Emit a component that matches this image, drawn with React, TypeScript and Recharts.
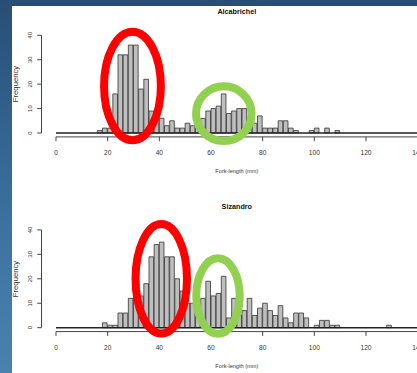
import React from 'react';
import { BarChart, Bar, XAxis, YAxis, ReferenceLine, ReferenceArea } from 'recharts';

// ---------- data ----------
const BIN_STARTS = [
  0, 2, 4, 6, 8, 10, 12, 14, 16, 18, 20, 22, 24, 26, 28, 30, 32, 34, 36, 38,
  40, 42, 44, 46, 48, 50, 52, 54, 56, 58, 60, 62, 64, 66, 68, 70, 72, 74, 76, 78,
  80, 82, 84, 86, 88, 90, 92, 94, 96, 98, 100, 102, 104, 106, 108, 110, 112, 114, 116, 118,
  120, 122, 124, 126, 128, 130, 132, 134, 136, 138,
];

const ALCABRICHEL_COUNTS = [
  0, 0, 0, 0, 0, 0, 0, 0,
  1, 2, 2, 16, 32, 32, 36, 36, 18, 22,
  9, 6, 6, 3, 5, 2, 2, 4, 3, 2,
  6, 9, 10, 11, 16, 8, 9, 10, 10, 3,
  4, 7, 2, 2, 2, 5, 5, 2, 1, 0,
  0, 1, 2, 0, 2, 0, 1,
  0, 0, 0, 0, 0, 0, 0, 0, 0, 0, 0, 0, 0, 0, 0,
];

const SIZANDRO_COUNTS = [
  0, 0, 0, 0, 0, 0, 0, 0, 0,
  2, 1, 1, 6, 6, 12, 12, 13, 18, 29,
  34, 35, 29, 29, 20, 15, 10, 10, 10, 12,
  19, 13, 14, 21, 4, 12, 5, 7, 12, 5,
  8, 10, 7, 5, 9, 4, 2, 6, 6, 4,
  0, 1, 3, 3, 1, 1,
  0, 0, 0, 0, 0, 0, 0, 0, 0,
  1,
  0, 0, 0, 0, 0,
];

const X_TICKS = [0, 20, 40, 60, 80, 100, 120, 140];
const Y_TICKS = [0, 10, 20, 30, 40];
const TITLES = ['Alcabrichel', 'Sizandro'];
const X_LABEL = 'Fork-length (mm)';
const Y_LABEL = 'Frequency';

// annotation ellipses (in data units: mm / frequency)
const ALC_RED = { x1: 18.6, x2: 40.6, y1: -3.0, y2: 41.5 };
const ALC_GREEN = { x1: 54.2, x2: 75.7, y1: -3.3, y2: 19.1 };
const SIZ_RED = { x1: 30.8, x2: 50.7, y1: -2.4, y2: 42.4 };
const SIZ_GREEN = { x1: 54.3, x2: 71.1, y1: -2.45, y2: 28.4 };

// ---------- layout ----------
const FONT = '"Liberation Sans", Arial, Helvetica, sans-serif';
const K = 2.5833; // px per mm
const X_MIN = -5.6;
const X_MAX = 145.6;
const BREAK_MAX = 140;
const Y_MIN = -1.6;
const Y_MAX = 41.6;
const PLOT_LEFT = 41.53;
const Y_AXIS_W = 30;
const PLOT_W = (X_MAX - X_MIN) * K;
const CHART_W = 440;
const BAND = 2 * K;
const RED = '#ff0000';
const GREEN = '#92d050';

const XTick = (props: any) => {
  const { x, y, payload } = props;
  return (
    <text x={x} y={y} textAnchor="middle" dominantBaseline="central" fontSize={6.6} fill="#333" fontFamily={FONT}>
      {payload.value}
    </text>
  );
};

const YTick = (props: any) => {
  const { x, y, payload } = props;
  return (
    <text
      x={x}
      y={y}
      transform={`rotate(-90 ${x} ${y})`}
      textAnchor="middle"
      dominantBaseline="central"
      fontSize={6}
      fill="#333"
      fontFamily={FONT}
    >
      {payload.value}
    </text>
  );
};

const ellipseShape = (color: string) => (p: any) => (
  <ellipse
    cx={p.x + p.width / 2}
    cy={p.y + p.height / 2}
    rx={p.width / 2}
    ry={p.height / 2}
    fill="none"
    stroke={color}
    strokeWidth={8}
  />
);

type Mark = { x1: number; x2: number; y1: number; y2: number };

function Histogram(props: {
  counts: number[];
  height: number;
  marginTop: number;
  marginBottom: number;
  red: Mark;
  green: Mark;
}) {
  const data = BIN_STARTS.map((b, i) => ({ bin: b, count: props.counts[i] }));
  const marks: [Mark, string][] = [
    [props.red, RED],
    [props.green, GREEN],
  ];
  return (
    <BarChart
      width={CHART_W}
      height={props.height}
      data={data}
      margin={{
        top: props.marginTop,
        bottom: props.marginBottom,
        left: PLOT_LEFT - Y_AXIS_W,
        right: CHART_W - PLOT_LEFT - PLOT_W,
      }}
      barCategoryGap={0}
      barGap={0}
      style={{ overflow: 'visible' }}
    >
      <XAxis
        xAxisId="cat"
        dataKey="bin"
        type="category"
        hide
        height={0}
        padding={{ left: (0 - X_MIN) * K, right: (X_MAX - BREAK_MAX) * K }}
      />
      <XAxis
        xAxisId="num"
        dataKey="bin"
        type="number"
        domain={[X_MIN, X_MAX]}
        allowDataOverflow
        ticks={X_TICKS}
        interval={0}
        axisLine={false}
        tickSize={4.3}
        tickMargin={11.2}
        tickLine={{ stroke: '#444', strokeWidth: 1 }}
        tick={XTick}
        height={30}
      />
      <YAxis
        type="number"
        domain={[Y_MIN, Y_MAX]}
        allowDataOverflow
        ticks={Y_TICKS}
        interval={0}
        axisLine={false}
        width={Y_AXIS_W}
        tickSize={4.3}
        tickMargin={7}
        tickLine={{ stroke: '#444', strokeWidth: 1 }}
        tick={YTick}
      />
      <Bar
        xAxisId="cat"
        dataKey="count"
        fill="#bebebe"
        stroke="#333"
        strokeWidth={0.8}
        barSize={BAND}
        isAnimationActive={false}
      />
      <ReferenceLine
        xAxisId="num"
        segment={[{ x: 0, y: 0 }, { x: BREAK_MAX, y: 0 }]}
        stroke="#222"
        strokeWidth={1.6}
        ifOverflow="visible"
      />
      <ReferenceLine
        xAxisId="num"
        segment={[{ x: 0, y: Y_MIN }, { x: BREAK_MAX, y: Y_MIN }]}
        stroke="#444"
        strokeWidth={1}
        ifOverflow="visible"
      />
      <ReferenceLine
        xAxisId="num"
        segment={[{ x: X_MIN, y: 0 }, { x: X_MIN, y: 40 }]}
        stroke="#444"
        strokeWidth={1}
        ifOverflow="visible"
      />
      {marks.map(([m, c], i) => (
        <ReferenceArea
          key={i}
          xAxisId="num"
          x1={m.x1}
          x2={m.x2}
          y1={m.y1}
          y2={m.y2}
          ifOverflow="visible"
          {...({ zIndex: 1600 } as any)}
          shape={ellipseShape(c)}
        />
      ))}
    </BarChart>
  );
}

const centered = (cx: number, cy: number, extra: React.CSSProperties = {}): React.CSSProperties => ({
  position: 'absolute',
  left: cx,
  top: cy,
  transform: 'translate(-50%, -50%)',
  whiteSpace: 'nowrap',
  lineHeight: 1,
  fontFamily: FONT,
  color: '#333',
  ...extra,
});

export default function App() {
  return (
    <div
      style={{
        position: 'absolute',
        left: 0,
        top: 0,
        width: 417,
        height: 373,
        overflow: 'hidden',
        background: '#ffffff',
      }}
    >
      <div style={{ position: 'absolute', left: 0, top: 0, width: 417, height: 6, background: '#284e75' }} />
      <div
        style={{
          position: 'absolute',
          left: 0,
          top: 0,
          width: 12,
          height: 373,
          background: 'linear-gradient(#284e75, #3b72a0 60%, #4a82ae)',
        }}
      />

      <div style={{ position: 'absolute', left: 0, top: 0 }}>
        <Histogram
          counts={ALCABRICHEL_COUNTS}
          height={190}
          marginTop={31.4}
          marginBottom={23.1}
          red={ALC_RED}
          green={ALC_GREEN}
        />
      </div>
      <div style={{ position: 'absolute', left: 0, top: 185 }}>
        <Histogram
          counts={SIZANDRO_COUNTS}
          height={188}
          marginTop={41}
          marginBottom={11.4}
          red={SIZ_RED}
          green={SIZ_GREEN}
        />
      </div>

      <div style={centered(236.8, 12.3, { fontSize: 7.2, fontWeight: 'bold', color: '#111' })}>{TITLES[0]}</div>
      <div style={centered(236.8, 207.3, { fontSize: 7.2, fontWeight: 'bold', color: '#111' })}>{TITLES[1]}</div>
      <div style={centered(236.8, 172, { fontSize: 5.6 })}>{X_LABEL}</div>
      <div style={centered(236.8, 366.7, { fontSize: 5.6 })}>{X_LABEL}</div>
      <div style={centered(16, 84.2, { fontSize: 7.7, transform: 'translate(-50%, -50%) rotate(-90deg)' })}>{Y_LABEL}</div>
      <div style={centered(16, 279, { fontSize: 7.7, transform: 'translate(-50%, -50%) rotate(-90deg)' })}>{Y_LABEL}</div>
    </div>
  );
}
